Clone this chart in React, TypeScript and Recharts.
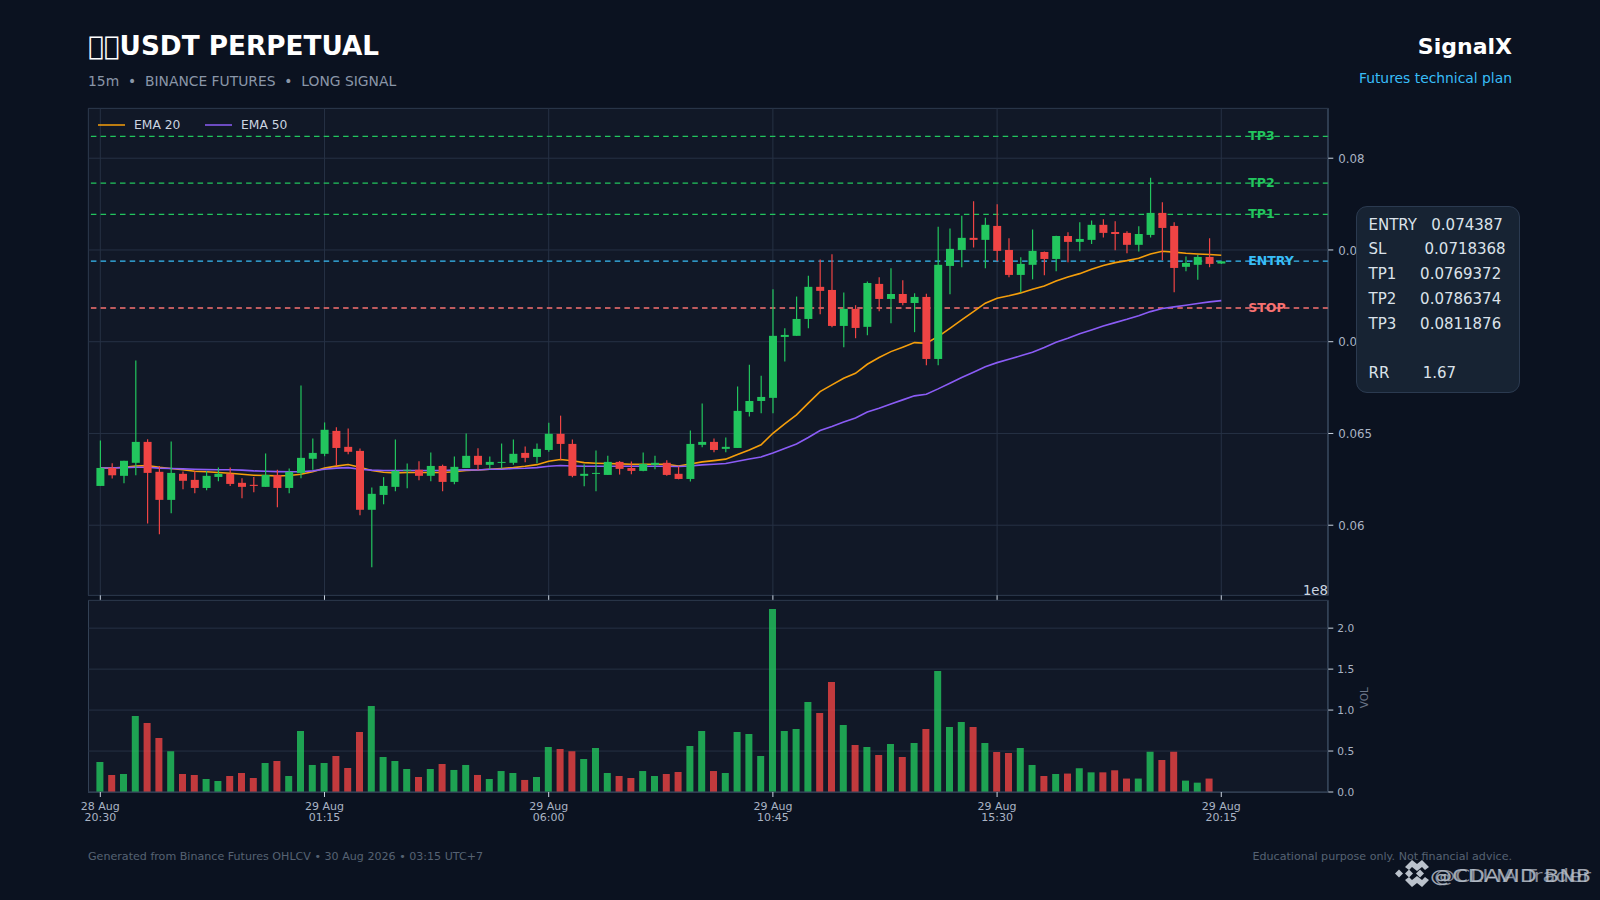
import React from "react";
import {
  Bar,
  CartesianGrid,
  Cell,
  ComposedChart,
  Label,
  Legend,
  Line,
  ReferenceLine,
  XAxis,
  YAxis,
} from "recharts";

const opens = [
  0.06214, 0.06312, 0.06269, 0.0634, 0.06454, 0.06291, 0.06138, 0.0628, 0.06247, 0.06203,
  0.06263, 0.0628, 0.06231, 0.0622, 0.06209, 0.06274, 0.06203, 0.06285, 0.06362, 0.06389,
  0.06514, 0.06427, 0.06405, 0.06084, 0.06165, 0.06209, 0.06298, 0.06302, 0.06269, 0.06323,
  0.06236, 0.06312, 0.06378, 0.06329, 0.0634, 0.0634, 0.06394, 0.06372, 0.0641, 0.06498,
  0.06443, 0.06269, 0.0628, 0.06274, 0.06345, 0.06312, 0.06296, 0.06329, 0.0634, 0.0628,
  0.06252, 0.06438, 0.06454, 0.06416, 0.06421, 0.06617, 0.06677, 0.06694, 0.07026, 0.07032,
  0.07124, 0.07299, 0.07282, 0.07086, 0.07179, 0.07081, 0.07315, 0.07233, 0.0726, 0.07211,
  0.07244, 0.06906, 0.07413, 0.075, 0.07566, 0.07555, 0.07631, 0.075, 0.07364, 0.07419,
  0.07489, 0.07451, 0.07576, 0.07544, 0.07555, 0.07637, 0.07598, 0.07593, 0.07528, 0.07582,
  0.07702, 0.07631, 0.07408, 0.07419, 0.07462, 0.07426,
];
const highs = [
  0.06461, 0.06338, 0.06351, 0.06897, 0.06469, 0.06323, 0.06456, 0.06292, 0.06296, 0.06296,
  0.06314, 0.06314, 0.06256, 0.06263, 0.06391, 0.06302, 0.06309, 0.06761, 0.06472, 0.0656,
  0.06534, 0.06527, 0.06418, 0.06205, 0.06262, 0.06467, 0.06336, 0.06349, 0.06396, 0.0633,
  0.06374, 0.065, 0.06419, 0.06374, 0.06445, 0.06467, 0.06429, 0.06445, 0.06559, 0.06597,
  0.06467, 0.06332, 0.06407, 0.06379, 0.0635, 0.06347, 0.06396, 0.06379, 0.06354, 0.0632,
  0.06516, 0.06663, 0.06472, 0.06478, 0.06756, 0.06875, 0.06815, 0.07286, 0.07073, 0.07246,
  0.0736, 0.07448, 0.07477, 0.07268, 0.07199, 0.07328, 0.07351, 0.074, 0.07335, 0.07264,
  0.07262, 0.07627, 0.07617, 0.07687, 0.07765, 0.07676, 0.07749, 0.07564, 0.0746, 0.07611,
  0.07491, 0.07578, 0.07597, 0.07651, 0.0766, 0.07667, 0.07656, 0.07602, 0.07629, 0.07893,
  0.0776, 0.07651, 0.07464, 0.07473, 0.07564, 0.0744,
];
const lows = [
  0.06214, 0.06254, 0.06229, 0.06272, 0.06009, 0.05951, 0.06065, 0.06196, 0.06174, 0.06191,
  0.0624, 0.06213, 0.06147, 0.0618, 0.06209, 0.06098, 0.06174, 0.06256, 0.06302, 0.06376,
  0.06323, 0.06387, 0.06054, 0.05771, 0.06114, 0.06185, 0.06202, 0.06245, 0.0624, 0.06185,
  0.06223, 0.06312, 0.06301, 0.06305, 0.0631, 0.06329, 0.06343, 0.06338, 0.064, 0.06356,
  0.06261, 0.06212, 0.06185, 0.06274, 0.06276, 0.06278, 0.06294, 0.06305, 0.06269, 0.0625,
  0.06238, 0.06425, 0.06398, 0.06398, 0.06421, 0.06592, 0.0661, 0.0661, 0.06892, 0.07032,
  0.07073, 0.0715, 0.07079, 0.0697, 0.07019, 0.07035, 0.07166, 0.07101, 0.07199, 0.07052,
  0.06872, 0.06872, 0.07259, 0.07406, 0.07513, 0.074, 0.07439, 0.07351, 0.07268, 0.0734,
  0.07362, 0.07384, 0.07433, 0.07493, 0.07533, 0.07568, 0.07498, 0.07482, 0.07491, 0.07568,
  0.07444, 0.0727, 0.07384, 0.07337, 0.07406, 0.07424,
];
const closes = [
  0.06312, 0.06272, 0.06351, 0.06454, 0.06285, 0.06138, 0.06285, 0.06242, 0.06203, 0.06269,
  0.0628, 0.06225, 0.06209, 0.06214, 0.06274, 0.06203, 0.06291, 0.06367, 0.06394, 0.0652,
  0.06421, 0.064, 0.06084, 0.06171, 0.06214, 0.06296, 0.06302, 0.06269, 0.06323, 0.06236,
  0.06318, 0.06378, 0.06329, 0.06345, 0.06345, 0.06389, 0.06367, 0.06416, 0.06498, 0.06443,
  0.06269, 0.0628, 0.06285, 0.06345, 0.06307, 0.06296, 0.06334, 0.0634, 0.06274, 0.06252,
  0.06443, 0.06454, 0.0641, 0.06427, 0.06623, 0.06677, 0.06699, 0.07032, 0.07037, 0.07124,
  0.07299, 0.07277, 0.07086, 0.07179, 0.07075, 0.0732, 0.07233, 0.0726, 0.07211, 0.07244,
  0.06906, 0.07419, 0.07506, 0.07566, 0.07555, 0.07637, 0.07495, 0.07364, 0.07424, 0.07495,
  0.07451, 0.07576, 0.07544, 0.0756, 0.07637, 0.07593, 0.07587, 0.07528, 0.07587, 0.07702,
  0.0762, 0.07402, 0.07429, 0.07462, 0.07424, 0.07438,
];
const ema20 = [
  0.06312, 0.06312, 0.06316, 0.06323, 0.06325, 0.06316, 0.06309, 0.06302, 0.06294, 0.06291,
  0.06287, 0.06283, 0.06278, 0.06272, 0.06271, 0.06269, 0.06271, 0.06278, 0.06291, 0.06311,
  0.06322, 0.06331, 0.06316, 0.06298, 0.06289, 0.06285, 0.06287, 0.06287, 0.06287, 0.06287,
  0.06291, 0.06298, 0.06301, 0.06305, 0.06309, 0.06314, 0.06321, 0.0633, 0.06349, 0.06358,
  0.06351, 0.06341, 0.06338, 0.06336, 0.06334, 0.06332, 0.06332, 0.06332, 0.06332, 0.06323,
  0.06334, 0.06345, 0.06352, 0.0636, 0.06385, 0.0641, 0.06438, 0.06501, 0.06552, 0.06601,
  0.06665, 0.06728, 0.06765, 0.06801, 0.06828, 0.06877, 0.06914, 0.06946, 0.0697, 0.06995,
  0.06992, 0.07028, 0.07073, 0.07119, 0.07164, 0.0721, 0.07237, 0.0725, 0.07266, 0.07286,
  0.07304, 0.07331, 0.07353, 0.07371, 0.07395, 0.07415, 0.07431, 0.07442, 0.07455, 0.07478,
  0.07493, 0.07488, 0.07482, 0.07478, 0.07475, 0.07471,
];
const ema50 = [
  0.06312, 0.06312, 0.06314, 0.06316, 0.06316, 0.06311, 0.06309, 0.06307, 0.06305, 0.06303,
  0.06302, 0.06302, 0.063, 0.06296, 0.06294, 0.06292, 0.06291, 0.06291, 0.06296, 0.06305,
  0.06311, 0.06314, 0.06305, 0.063, 0.06298, 0.06298, 0.06298, 0.06298, 0.06298, 0.06298,
  0.063, 0.06302, 0.06301, 0.06305, 0.06305, 0.06309, 0.0631, 0.06314, 0.06321, 0.06325,
  0.06323, 0.06321, 0.06321, 0.06321, 0.06321, 0.06321, 0.06321, 0.06321, 0.06321, 0.0632,
  0.06323, 0.06329, 0.06332, 0.06336, 0.06349, 0.06361, 0.06372, 0.06394, 0.06418, 0.06443,
  0.06478, 0.06516, 0.06538, 0.06562, 0.06584, 0.06617, 0.06637, 0.06661, 0.06683, 0.06705,
  0.06714, 0.06743, 0.06774, 0.06805, 0.06834, 0.06864, 0.06886, 0.06904, 0.06923, 0.06943,
  0.06968, 0.06997, 0.07019, 0.07043, 0.07064, 0.07086, 0.07104, 0.07122, 0.07142, 0.07164,
  0.07181, 0.0719, 0.07199, 0.07208, 0.07217, 0.07224,
];
// in units of 1e8
const volumes = [
  0.366, 0.208, 0.22, 0.928, 0.842, 0.659, 0.497, 0.22, 0.208, 0.159,
  0.134, 0.195, 0.232, 0.171, 0.354, 0.379, 0.195, 0.745, 0.33, 0.354,
  0.44, 0.293, 0.733, 1.05, 0.427, 0.379, 0.281, 0.183, 0.281, 0.342,
  0.269, 0.33, 0.208, 0.159, 0.256, 0.232, 0.147, 0.183, 0.549, 0.525,
  0.497, 0.403, 0.537, 0.232, 0.195, 0.171, 0.256, 0.195, 0.22, 0.244,
  0.562, 0.745, 0.256, 0.232, 0.733, 0.708, 0.44, 2.234, 0.745, 0.769,
  1.099, 0.965, 1.343, 0.818, 0.574, 0.549, 0.452, 0.586, 0.427, 0.598,
  0.769, 1.477, 0.794, 0.855, 0.794, 0.598, 0.488, 0.476, 0.537, 0.33,
  0.195, 0.22, 0.225, 0.29, 0.24, 0.24, 0.265, 0.164, 0.164, 0.492,
  0.391, 0.492, 0.139, 0.114, 0.164, 0,
];

const xTicks = [0, 19, 38, 57, 76, 95];
const xTickDays = ["28 Aug", "29 Aug", "29 Aug", "29 Aug", "29 Aug", "29 Aug"];
const xTickTimes = ["20:30", "01:15", "06:00", "10:45", "15:30", "20:15"];
const priceTicks = [0.06, 0.065, 0.07, 0.075, 0.08];
const volumeTicks = [0, 0.5, 1, 1.5, 2];

const levelNames = ["TP3", "TP2", "TP1", "ENTRY", "STOP"];
const levelValues = [0.0811876, 0.0786374, 0.0769372, 0.074387, 0.0718368];
const levelColors = ["#22c55e", "#22c55e", "#22c55e", "#38bdf8", "#f87171"];

const panelRows = [
  "ENTRY   0.074387",
  "SL        0.0718368",
  "TP1     0.0769372",
  "TP2     0.0786374",
  "TP3     0.0811876",
  " ",
  "RR       1.67",
];

const UP = "#22c55e";
const DOWN = "#ef4444";
const FONT = "'DejaVu Sans', sans-serif";
const X_DOMAIN = [-1.017, 104.07];

const priceData = opens.map((open, i) => ({
  i,
  open,
  high: highs[i],
  low: lows[i],
  close: closes[i],
  ema20: ema20[i],
  ema50: ema50[i],
}));
const volumeData = volumes.map((volume, i) => ({ i, volume }));

const CandleShape = ({ x, y, width, height, payload }: any) => {
  const { open, high, low, close } = payload;
  const color = close >= open ? UP : DOWN;
  const perUnit = Math.abs(height) / (high - low);
  const top = y + (high - Math.max(open, close)) * perUnit;
  const bodyHeight = Math.max(Math.abs(open - close) * perUnit, 1);
  const cx = x + width / 2;
  return (
    <g>
      <line x1={cx} x2={cx} y1={y} y2={y + Math.abs(height)} stroke={color} strokeWidth={1.2} />
      <rect x={x} y={top} width={width} height={bodyHeight} fill={color} />
    </g>
  );
};

const DateTick = ({ x, y, payload }: any) => {
  const idx = xTicks.indexOf(payload.value);
  return (
    <text x={x} textAnchor="middle" fill="#aab4c4" fontSize={11} fontFamily={FONT}>
      <tspan x={x} y={y + 11}>{xTickDays[idx]}</tspan>
      <tspan x={x} y={y + 22}>{xTickTimes[idx]}</tspan>
    </text>
  );
};

const LevelLabel = ({ viewBox, name, color }: any) => (
  <text
    x={viewBox.x + 1160}
    y={viewBox.y + 4}
    fill={color}
    fontSize={12.5}
    fontWeight="bold"
    fontFamily={FONT}
  >
    {name}
  </text>
);

const EmaLegend = ({ payload }: any) => (
  <div style={{ display: "flex", fontFamily: FONT, fontSize: 12.3, color: "#cbd5e1" }}>
    {(payload || []).map((item: any) => (
      <div key={item.value} style={{ display: "flex", alignItems: "center", flex: "0 0 107px" }}>
        <span
          style={{ width: 27, height: 2, background: item.color, opacity: 0.75, marginRight: 9 }}
        />
        {item.value}
      </div>
    ))}
  </div>
);

const Watermark = () => (
  <svg
    width={215}
    height={50}
    style={{ position: "absolute", left: 1385, top: 850, opacity: 0.9 }}
  >
    <g fill="#cfd6df">
      <polygon points="10,23.5 14,19.5 18,23.5 14,27.5" />
      <polygon points="20,17 27,10 32,14 37,10 44,17 40,20 37,17 32,21 27,17 24,20" />
      <polygon points="20,23.5 24,19.5 28,23.5 24,27.5" />
      <polygon points="31,23.5 35,19.5 39,23.5 35,27.5" />
      <polygon points="20,30 24,27 27,30 32,26 37,30 40,27 44,30 37,37 32,33 27,37" />
    </g>
    <g fontFamily={FONT} fontSize={18}>
      <text x={45} y={32} fill="#e2e8f0" fillOpacity={0.8} textLength={161} lengthAdjust="spacingAndGlyphs">
        @CDAVID BNB
      </text>
      <text x={49} y={32} fill="#cbd5e1" fillOpacity={0.7} textLength={157} lengthAdjust="spacingAndGlyphs">
        @CLI-IA Trader
      </text>
    </g>
  </svg>
);

const PriceChart = () => (
  <ComposedChart
    width={1600}
    height={620}
    data={priceData}
    margin={{ top: 108.3, left: 88.3, right: 211.7, bottom: 18.7 }}
  >
    <CartesianGrid stroke="#263144" strokeWidth={1} />
    <XAxis
      dataKey="i"
      type="number"
      domain={X_DOMAIN}
      allowDataOverflow
      ticks={xTicks}
      interval={0}
      height={6}
      tickSize={5}
      tick={() => <g />}
      axisLine={false}
      tickLine={{ stroke: "#cbd5e1" }}
    />
    <YAxis
      orientation="right"
      type="number"
      width={60}
      domain={[0.05618, 0.08272]}
      allowDataOverflow
      ticks={priceTicks}
      interval={0}
      tickSize={5}
      tickMargin={5}
      tickFormatter={(v: number) => String(v)}
      tick={{ fill: "#aab4c4", fontSize: 11.8, fontFamily: FONT, dy: 0.5 }}
      tickLine={{ stroke: "#cbd5e1" }}
      axisLine={{ stroke: "#334155" }}
    />
    <Legend
      layout="horizontal"
      verticalAlign="middle"
      align="center"
      content={<EmaLegend />}
      wrapperStyle={{ position: "absolute", left: 98, top: 117.5, width: 260 }}
    />
    {levelValues.map((value, i) => (
      <ReferenceLine
        key={levelNames[i]}
        y={value}
        stroke={levelColors[i]}
        strokeWidth={1.3}
        strokeDasharray="5.5 4.2"
        zIndex={100}
        label={<LevelLabel name={levelNames[i]} color={levelColors[i]} />}
      />
    ))}
    <Line
      dataKey="ema20"
      name="EMA 20"
      stroke="#f59e0b"
      strokeWidth={1.6}
      dot={false}
      activeDot={false}
      isAnimationActive={false}
      zIndex={200}
    />
    <Line
      dataKey="ema50"
      name="EMA 50"
      stroke="#8b5cf6"
      strokeWidth={1.6}
      dot={false}
      activeDot={false}
      isAnimationActive={false}
      zIndex={200}
    />
    <Bar
      dataKey={(d: any) => [d.low, d.high]}
      barSize={8}
      shape={<CandleShape />}
      legendType="none"
      isAnimationActive={false}
      zIndex={300}
    />
  </ComposedChart>
);

const VolumeChart = () => (
  <ComposedChart
    width={1600}
    height={880}
    data={volumeData}
    margin={{ top: 600.3, left: 88.3, right: 211.7, bottom: 58 }}
  >
    <CartesianGrid stroke="#263144" strokeWidth={1} vertical={false} />
    <XAxis
      dataKey="i"
      type="number"
      domain={X_DOMAIN}
      allowDataOverflow
      ticks={xTicks}
      interval={0}
      height={30}
      tickSize={5}
      tick={<DateTick />}
      axisLine={{ stroke: "#334155" }}
      tickLine={{ stroke: "#cbd5e1" }}
    />
    <YAxis
      orientation="right"
      type="number"
      width={60}
      domain={[0, 2.34]}
      allowDataOverflow
      ticks={volumeTicks}
      interval={0}
      tickSize={5}
      tickMargin={4}
      tickFormatter={(v: number) => v.toFixed(1)}
      tick={{ fill: "#aab4c4", fontSize: 10.6, fontFamily: FONT }}
      tickLine={{ stroke: "#cbd5e1" }}
      axisLine={{ stroke: "#334155" }}
    >
      <Label
        value="VOL"
        angle={-90}
        position="insideRight"
        dx={-19}
        dy={-9}
        fill="#6b7688"
        fontSize={10.5}
        fontFamily={FONT}
      />
    </YAxis>
    <Bar dataKey="volume" barSize={7} fillOpacity={0.8} isAnimationActive={false}>
      {volumeData.map((d) => (
        <Cell key={d.i} fill={closes[d.i] >= opens[d.i] ? UP : DOWN} />
      ))}
    </Bar>
  </ComposedChart>
);

const abs = (style: React.CSSProperties): React.CSSProperties => ({
  position: "absolute",
  fontFamily: FONT,
  whiteSpace: "pre",
  ...style,
});

const plotBox = (top: number, height: number): React.CSSProperties => ({
  position: "absolute",
  left: 88,
  top,
  width: 1240,
  height,
  background: "#111827",
  border: "1px solid #334155",
  boxSizing: "border-box",
});

export default function App() {
  return (
    <div style={{ position: "absolute", left: 0, top: 0, width: 1600, height: 900, background: "#0b1220", overflow: "hidden" }}>
      <div style={abs({ left: 88, top: 31, fontSize: 26.3, fontWeight: "bold", color: "#ffffff" })}>
        {"\uE000\uE000USDT PERPETUAL"}
      </div>
      <div style={abs({ left: 88, top: 73, fontSize: 13.86, color: "#8a96a8" })}>
        {"15m  •  BINANCE FUTURES  •  LONG SIGNAL"}
      </div>
      <div style={abs({ right: 88, top: 34, fontSize: 22, fontWeight: "bold", color: "#ffffff" })}>
        SignalX
      </div>
      <div style={abs({ right: 88, top: 70, fontSize: 13.86, color: "#38bdf8" })}>
        Futures technical plan
      </div>

      <div style={plotBox(108, 488)} />
      <div style={plotBox(600, 193)} />
      <div style={{ position: "absolute", left: 0, top: 0 }}>
        <PriceChart />
      </div>
      <div style={{ position: "absolute", left: 0, top: 0 }}>
        <VolumeChart />
      </div>

      <div style={abs({ right: 272, top: 583, fontSize: 13.3, color: "#cbd5e1" })}>1e8</div>

      <div
        style={abs({
          left: 1356,
          top: 206,
          width: 164,
          height: 187,
          boxSizing: "border-box",
          padding: "5.5px 0 0 11.5px",
          background: "#172333",
          border: "1px solid #2b3a50",
          borderRadius: 11,
          fontSize: 15,
          lineHeight: "24.75px",
          color: "#dbe2ea",
        })}
      >
        {panelRows.map((row, i) => (
          <div key={i}>{row}</div>
        ))}
      </div>

      <div style={abs({ left: 88, top: 850, fontSize: 11.1, color: "#566273" })}>
        Generated from Binance Futures OHLCV • 30 Aug 2026 • 03:15 UTC+7
      </div>
      <div style={abs({ right: 88, top: 850, fontSize: 11.1, color: "#566273" })}>
        Educational purpose only. Not financial advice.
      </div>
      <Watermark />
    </div>
  );
}
